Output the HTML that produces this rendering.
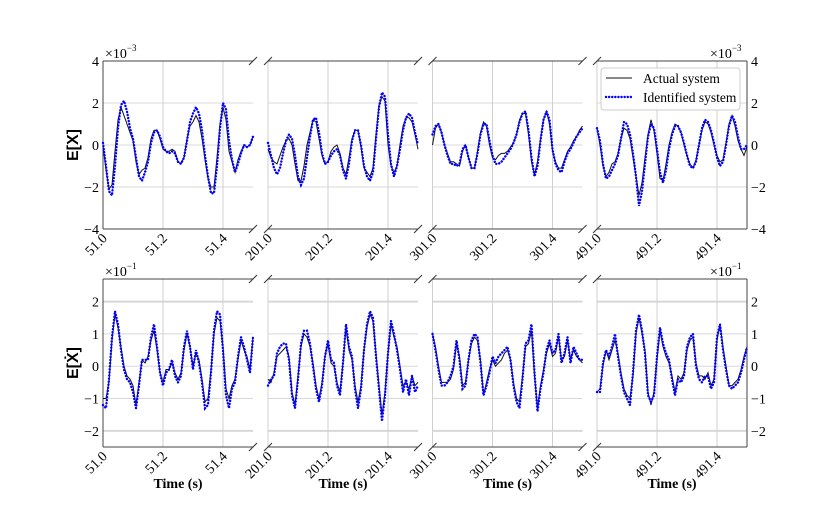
<!DOCTYPE html>
<html><head><meta charset="utf-8"><style>
body{margin:0;background:#fff}
svg{display:block;font-family:"Liberation Serif",serif}
</style></head><body>
<svg id="chart" width="830" height="511" viewBox="0 0 830 511"></svg>
<script>
// ---- data ----
const tStarts = [51.0, 201.0, 301.0, 491.0];
const xTicks = [0, 0.2, 0.4];
const topTicks = [-4, -2, 0, 2, 4];
const botTicks = [-2, -1, 0, 1, 2];
const topActual1 = [0,-1.2,-2.1,-1.9,-0.3,1.2,1.8,1.4,1.0,0.6,0.2,-0.8,-1.4,-1.2,-1.1,-0.6,0.3,0.7,0.7,0.3,-0.2,-0.3,-0.3,-0.2,-0.3,-0.8,-0.9,-0.6,0.3,0.9,1.1,1.4,1.1,0.3,-0.7,-1.6,-2.0,-2.0,-0.6,1.0,1.8,1.2,-0.3,-0.8,-1.3,-0.7,-0.3,0.0,-0.1,0.0,0.4];
const topIdent1 = [0.1,-1.0,-2.2,-2.4,-1.0,0.8,1.9,2.1,1.6,0.8,0.3,-0.6,-1.5,-1.7,-1.3,-0.8,0.1,0.6,0.7,0.4,-0.1,-0.3,-0.4,-0.3,-0.4,-0.8,-0.9,-0.6,0.2,1.1,1.5,1.8,1.5,0.7,-0.5,-1.5,-2.3,-2.3,-1.0,0.8,2.0,1.7,0.2,-0.7,-1.3,-0.9,-0.4,0.0,-0.1,0.0,0.4];
const topActual2 = [-0.2,-0.6,-0.8,-0.9,-0.5,-0.1,0.2,0.3,0.0,-0.9,-1.7,-1.7,-1.0,0.0,0.6,1.2,1.1,0.3,-0.5,-0.9,-0.8,-0.3,-0.1,0.0,-0.4,-1.1,-1.4,-0.6,0.3,0.7,0.7,-0.1,-1.1,-1.3,-1.5,-1.1,0.5,1.9,2.3,2.1,0.0,-1.0,-1.3,-1.0,0.0,0.9,1.3,1.3,1.1,0.5,-0.2];
const topIdent2 = [0.1,-0.5,-1.1,-1.4,-1.1,-0.4,0.2,0.5,0.3,-0.5,-1.5,-1.9,-1.6,-0.6,0.4,1.2,1.3,0.6,-0.4,-0.9,-0.8,-0.5,-0.3,-0.2,-0.5,-1.2,-1.6,-0.9,0.2,0.7,0.7,0.0,-1.0,-1.5,-1.7,-1.3,0.3,1.8,2.5,2.3,0.5,-0.9,-1.5,-1.0,-0.2,0.7,1.3,1.5,1.3,0.6,0.0];
const topActual3 = [0.0,0.8,1.0,0.6,0.0,-0.4,-0.8,-0.8,-0.9,-1.0,-0.3,0.0,-0.6,-1.1,-1.1,-0.3,0.6,1.1,0.9,0.0,-0.6,-0.7,-0.5,-0.4,-0.4,-0.3,-0.1,0.1,0.5,1.2,1.5,1.5,0.5,-0.8,-1.4,-0.8,0.3,1.2,1.6,1.0,-0.3,-0.8,-1.1,-1.1,-0.7,-0.3,-0.1,0.2,0.4,0.7,0.9];
const topIdent3 = [0.5,0.9,1.0,0.6,0.0,-0.5,-0.9,-0.9,-1.0,-0.9,-0.2,0.0,-0.6,-1.1,-1.1,-0.4,0.5,1.0,1.0,0.2,-0.5,-0.9,-0.9,-0.8,-0.6,-0.4,-0.2,0.1,0.5,1.1,1.5,1.6,0.7,-0.6,-1.5,-1.0,0.2,1.2,1.6,1.2,-0.2,-0.9,-1.2,-1.3,-0.8,-0.4,-0.2,0.1,0.4,0.6,0.8];
const topActual4 = [0.8,0.0,-1.0,-1.5,-1.3,-0.9,-0.8,-0.4,0.3,0.8,0.7,0.3,-0.6,-1.5,-2.4,-1.8,-0.6,0.5,1.2,0.7,-0.4,-1.6,-1.7,-0.9,0.0,0.6,1.0,0.9,0.6,0.0,-0.5,-0.9,-1.1,-0.7,0.0,0.7,1.1,1.0,0.6,0.0,-0.5,-0.8,-0.7,0.1,1.0,1.4,0.9,0.2,-0.2,-0.5,-0.1];
const topIdent4 = [0.8,0.2,-0.9,-1.6,-1.5,-1.2,-0.9,-0.5,0.3,1.1,1.0,0.5,-0.4,-1.5,-2.9,-2.2,-0.9,0.4,1.0,0.8,-0.2,-1.3,-1.8,-1.2,-0.2,0.5,0.9,0.9,0.6,0.1,-0.5,-1.0,-1.1,-0.8,0.0,0.8,1.2,1.1,0.7,0.1,-0.6,-1.0,-0.8,0.0,0.9,1.4,1.1,0.4,-0.2,-0.2,0.0];
const botActual1 = [-1.0,-1.0,-0.5,0.8,1.6,1.2,0.6,0.0,-0.3,-0.4,-0.6,-1.2,-0.5,0.2,0.1,0.3,0.8,1.1,0.5,-0.2,-0.5,-0.1,-0.1,0.1,-0.2,-0.4,-0.2,0.5,1.0,0.6,0.0,0.4,0.2,-0.4,-1.1,-1.0,-0.1,1.0,1.5,1.4,0.6,-0.7,-1.0,-0.6,-0.4,0.2,0.8,0.5,0.3,-0.1,0.9];
const botIdent1 = [-1.2,-1.3,-0.4,0.9,1.7,1.3,0.5,-0.1,-0.4,-0.5,-0.8,-1.3,-0.6,0.2,0.2,0.2,0.9,1.3,0.6,-0.2,-0.6,-0.2,-0.1,0.2,-0.3,-0.5,-0.3,0.6,1.1,0.6,-0.1,0.5,0.1,-0.5,-1.3,-1.2,-0.2,1.1,1.7,1.6,0.5,-0.9,-1.3,-0.7,-0.5,0.3,0.9,0.6,0.2,-0.2,0.9];
const botActual2 = [-0.4,-0.5,-0.2,0.3,0.4,0.5,0.6,0.3,-0.8,-1.2,-0.3,0.6,1.0,0.9,0.6,0.1,-0.6,-1.0,-0.5,0.3,0.7,0.1,0.0,-0.5,-0.8,0.1,1.2,0.5,0.2,-0.6,-1.1,-0.6,0.5,1.2,1.6,1.4,0.4,-0.6,-1.5,-0.8,0.4,1.3,0.9,0.6,0.0,-0.6,-0.5,-0.7,-0.3,-0.6,-0.5];
const botIdent2 = [-0.6,-0.4,-0.3,0.4,0.6,0.7,0.7,0.2,-0.9,-1.3,-0.4,0.7,1.1,1.1,0.7,0.0,-0.7,-1.1,-0.6,0.3,0.8,0.2,0.1,-0.6,-0.9,0.1,1.3,0.6,0.3,-0.7,-1.3,-0.7,0.5,1.3,1.7,1.5,0.3,-0.7,-1.7,-0.9,0.4,1.4,1.0,0.5,-0.1,-0.8,-0.4,-0.9,-0.3,-0.8,-0.6];
const botActual3 = [1.0,0.6,0.0,-0.5,-0.5,-0.5,-0.4,-0.1,0.7,0.3,-0.6,-0.5,0.2,0.7,0.9,0.8,0.2,-0.9,-0.5,-0.1,0.2,0.0,0.1,0.2,0.4,0.5,0.2,-0.5,-1.0,-1.1,-0.3,0.6,0.7,1.1,-0.3,-1.3,-0.6,-0.1,0.4,0.7,0.3,0.4,0.9,0.2,0.3,0.8,0.2,0.5,0.3,0.2,0.1];
const botIdent3 = [1.0,0.5,-0.1,-0.6,-0.6,-0.5,-0.3,0.0,0.8,0.2,-0.7,-0.6,0.2,0.8,1.0,0.9,0.1,-0.9,-0.6,-0.2,0.3,0.1,0.3,0.4,0.5,0.6,0.2,-0.6,-1.1,-1.3,-0.4,0.7,0.8,1.3,-0.2,-1.4,-0.7,-0.2,0.5,0.8,0.4,0.5,1.0,0.1,0.4,0.9,0.1,0.6,0.4,0.2,0.2];
const botActual4 = [-0.8,-0.7,0.0,0.5,0.2,0.5,0.8,0.4,-0.2,-0.7,-0.9,-1.0,-0.3,1.0,1.5,1.0,0.5,-0.8,-1.2,-0.8,0.2,1.1,0.6,0.3,0.1,-0.3,-0.8,-0.3,-0.4,-0.2,0.5,0.8,0.9,0.1,-0.3,-0.3,-0.4,-0.2,-0.6,-0.4,0.8,1.3,0.6,0.0,-0.6,-0.6,-0.5,-0.4,-0.1,0.3,0.6];
const botIdent4 = [-0.8,-0.8,0.1,0.5,0.3,0.6,1.0,0.3,-0.3,-0.8,-1.0,-1.2,-0.2,1.1,1.6,1.1,0.4,-0.9,-1.1,-0.9,0.3,1.2,0.7,0.4,0.2,-0.4,-0.9,-0.4,-0.5,-0.3,0.6,0.9,1.0,0.0,-0.4,-0.5,-0.3,-0.3,-0.7,-0.5,0.9,1.3,0.5,-0.1,-0.6,-0.7,-0.6,-0.5,-0.2,0.2,0.6];

const topA=[topActual1,topActual2,topActual3,topActual4], topI=[topIdent1,topIdent2,topIdent3,topIdent4];
const botA=[botActual1,botActual2,botActual3,botActual4], botI=[botIdent1,botIdent2,botIdent3,botIdent4];

const NS="http://www.w3.org/2000/svg";
const svg=document.getElementById('chart');
function mk(tag,attrs,parent){const e=document.createElementNS(NS,tag);for(const k in attrs)e.setAttribute(k,attrs[k]);(parent||svg).appendChild(e);return e;}
const panelX=[103,268,432.5,597], PW=150;
const rows=[{top:61,bot:229,min:-4,max:4,ticks:topTicks,A:topA,I:topI,exp:'−3',lab:'E[X]'},
            {top:279,bot:447,min:-2.5,max:2.7,ticks:botTicks,A:botA,I:botI,exp:'−1',lab:'E[Ẋ]'}];
rows.forEach((r,ri)=>{
  const ys=v=>r.bot-(v-r.min)/(r.max-r.min)*(r.bot-r.top);
  panelX.forEach((px,pi)=>{
    const xs=t=>px+t/0.5*PW;
    const g=mk('g',{});
    
    
    r.ticks.forEach(v=>{const l=mk('line',{x1:px,x2:px+PW,y1:ys(v),y2:ys(v),stroke:'#d8d8d8','stroke-width':(Math.abs(v)===2&&ri===1)?2:1},g);
      });
    xTicks.forEach(t=>{const l=mk('line',{x1:xs(t),x2:xs(t),y1:r.top,y2:r.bot,stroke:'#d0d0d0','stroke-width':1},g);
      });
    [r.top,r.bot].forEach(y=>{const l=mk('line',{x1:px,x2:px+PW,y1:y,y2:y,stroke:'#444','stroke-width':1},g);
      });
    if(pi===0){const l=mk('line',{x1:px,x2:px,y1:r.top,y2:r.bot,stroke:'#444'},g);}
    if(pi===3){const l=mk('line',{x1:px+PW,x2:px+PW,y1:r.top,y2:r.bot,stroke:'#444'},g);}
    const edges=[]; if(pi>0)edges.push(px); if(pi<3)edges.push(px+PW);
    edges.forEach(ex=>[r.top,r.bot].forEach(y=>{const l=mk('line',{x1:ex-4,y1:y+4,x2:ex+4,y2:y-4,stroke:'#333','stroke-width':1},g);
      }));
    const n=r.A[pi].length;
    const ptsA=r.A[pi].map((v,i)=>xs(i*0.5/(n-1)).toFixed(1)+','+ys(v).toFixed(1)).join(' ');
    const ptsI=r.I[pi].map((v,i)=>xs(i*0.5/(n-1)).toFixed(1)+','+ys(v).toFixed(1)).join(' ');
    const la=mk('polyline',{points:ptsA,fill:'none',stroke:'#111','stroke-width':1},g);
    
    const li=mk('polyline',{points:ptsI,fill:'none',stroke:'#0000ff','stroke-width':2.4,'stroke-dasharray':'0.1 3','stroke-linecap':'round'},g);
    
    xTicks.forEach(t=>{const x=xs(t)+5,y=r.bot+10;
      const tx=mk('text',{x:x,y:y,'font-size':14,'text-anchor':'end',transform:`rotate(-45 ${x} ${y})`},g);
      tx.textContent=(tStarts[pi]+t).toFixed(1);
      });
    if(pi===0||pi===3){r.ticks.forEach(v=>{
      const tx=mk('text',{x:pi===0?px-4:px+PW+4,y:ys(v)+5,'font-size':14,'text-anchor':pi===0?'end':'start'},g);
      tx.textContent=v<0?'−'+Math.abs(v):String(v);
      });
      const ex=mk('text',{x:pi===0?px+2:px+PW-37,y:r.top-3,'font-size':14},g);
      ex.innerHTML='×10<tspan dy="-7" font-size="9">'+r.exp+'</tspan>';
      }
    if(ri===1){const tl=mk('text',{x:px+PW/2,y:488,'font-size':14,'font-weight':'bold','text-anchor':'middle'},g);
      tl.textContent='Time (s)';}
  });
  const yl=mk('text',{x:0,y:0,'font-size':16,'font-weight':'bold','font-family':'Liberation Sans, sans-serif','text-anchor':'middle',transform:`translate(78,${(r.top+r.bot)/2}) rotate(-90)`});
  yl.textContent=r.lab;
});
const lg=mk('g',{});

mk('rect',{x:601,y:68,width:139,height:42,rx:3,fill:'#fff','fill-opacity':0.9,stroke:'#ccc'},lg);
mk('line',{x1:606,x2:632,y1:78,y2:78,stroke:'#111','stroke-width':1},lg);
mk('line',{x1:606,x2:632,y1:97,y2:97,stroke:'#0000ff','stroke-width':2.4,'stroke-dasharray':'0.1 3','stroke-linecap':'round'},lg);
const t1=mk('text',{x:643,y:83,'font-size':13.5},lg);t1.textContent='Actual system';

const t2=mk('text',{x:643,y:102,'font-size':13.5},lg);t2.textContent='Identified system';

</script>
</body></html>
